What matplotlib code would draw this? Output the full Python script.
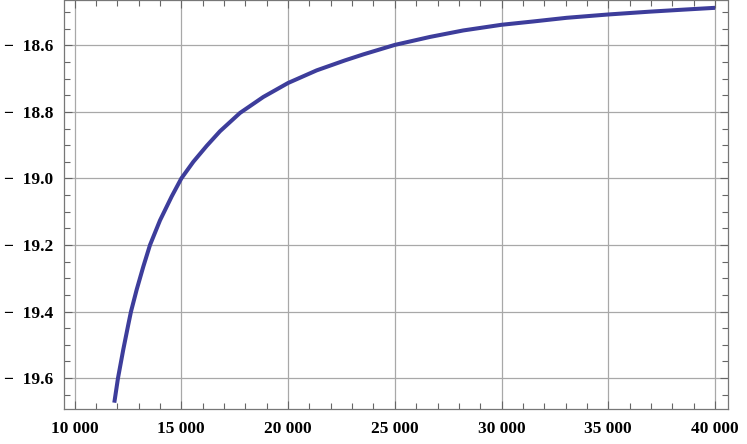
import numpy as np
import matplotlib
matplotlib.use("Agg")
import matplotlib.pyplot as plt
from matplotlib.ticker import MultipleLocator, FuncFormatter

# values
xs = [11862, 12035, 12283, 12518, 12644, 12911, 13220, 13534, 14002, 14550,
      15000, 15562, 16190, 16813, 17749, 18841, 20000, 21342, 22667, 23525,
      25000, 26649, 28208, 30000, 31487, 33051, 35000, 36953, 38513, 40000]
ys = [-19.674, -19.600, -19.514, -19.439, -19.400, -19.334, -19.265, -19.200,
      -19.126, -19.054, -19.000, -18.950, -18.902, -18.858, -18.803, -18.755,
      -18.713, -18.675, -18.645, -18.627, -18.5985, -18.5745, -18.555, -18.538,
      -18.528, -18.517, -18.507, -18.4985, -18.4925, -18.487]

x_range = (9506, 40606)
y_range = (-19.693, -18.465)

plt.rcParams["font.family"] = ["Liberation Serif", "DejaVu Serif"]
plt.rcParams["font.weight"] = "bold"

fig = plt.figure(figsize=(7.47, 4.44), dpi=100)
ax = fig.add_axes([64 / 747, 1 - 409 / 444, (728 - 64) / 747, 408.5 / 444])

ax.plot(xs, ys, color="#3d3d9b", lw=2.9, solid_capstyle="butt",
        solid_joinstyle="round", zorder=3)

ax.set_xlim(*x_range)
ax.set_ylim(*y_range)

ax.xaxis.set_major_locator(MultipleLocator(5000))
ax.xaxis.set_minor_locator(MultipleLocator(1000))
ax.yaxis.set_major_locator(MultipleLocator(0.2))
ax.yaxis.set_minor_locator(MultipleLocator(0.05))

def fmt_x(v, pos):
    return "%d %03d" % (int(round(v)) // 1000, int(round(v)) % 1000)

def fmt_y(v, pos):
    return "\u2212  %.1f" % abs(v)

ax.xaxis.set_major_formatter(FuncFormatter(fmt_x))
ax.yaxis.set_major_formatter(FuncFormatter(fmt_y))

ax.grid(True, which="major", color="#a8a8a8", lw=0.9, zorder=1)
ax.set_axisbelow(True)

for s in ax.spines.values():
    s.set_color("#777777")
    s.set_linewidth(0.9)

ax.tick_params(which="both", direction="in", top=True, right=True,
               color="#666666", width=0.8)
ax.tick_params(which="major", length=6)
ax.tick_params(which="minor", length=4)
ax.tick_params(axis="x", which="major", pad=8.5, labelsize=12.5)
ax.tick_params(axis="y", which="major", pad=7.5, labelsize=12.5)
for lab in ax.get_xticklabels() + ax.get_yticklabels():
    lab.set_fontweight("bold")

fig.savefig("out.png", dpi=100)
